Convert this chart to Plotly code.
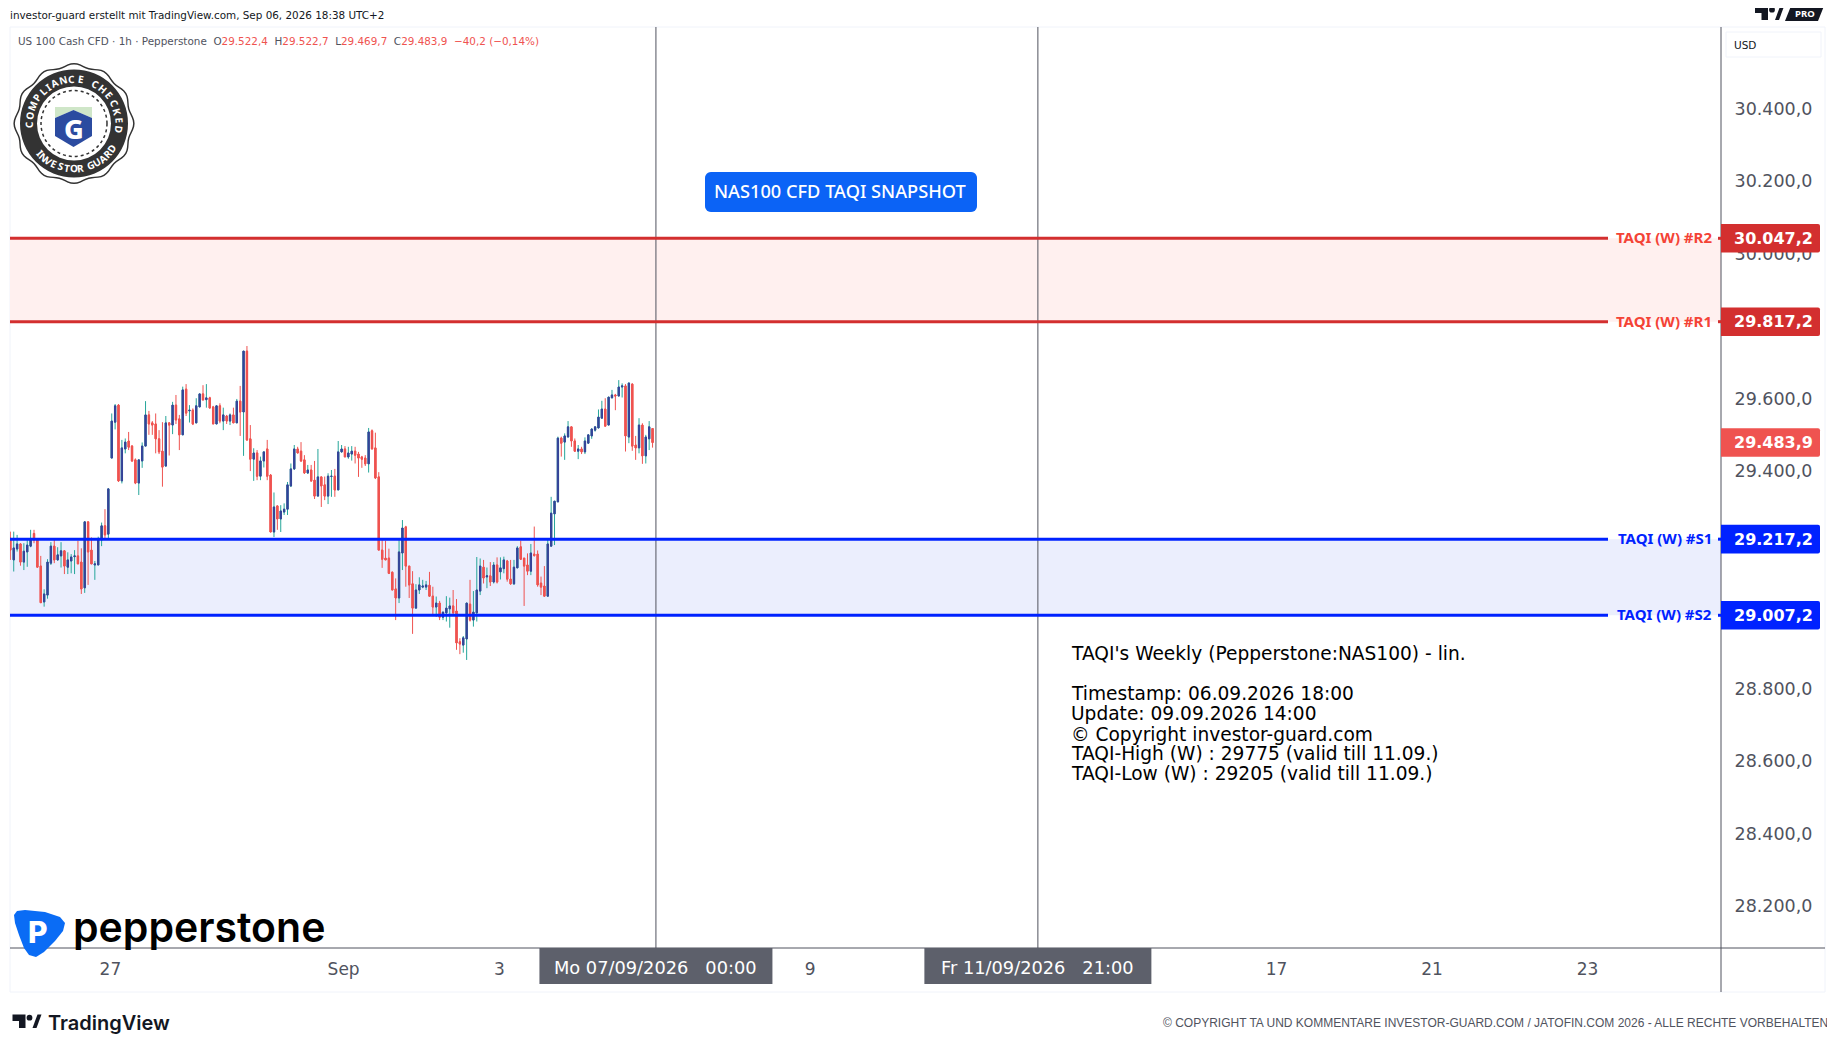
import math
import plotly.graph_objects as go

# hourly bars (prices)
opens = [29220,29160,29190,29204,29154,29182,29198,29233,29217,29143,29044,29063,29151,29198,29160,29171,29185,29140,29157,29169,
         29171,29154,29083,29265,29187,29146,29146,29215,29254,29231,29441,29540,29587,29378,29466,29488,29474,29436,29372,29433,
         29474,29560,29538,29535,29494,29460,29419,29538,29532,29587,29549,29505,29631,29571,29573,29538,29582,29618,29602,29607,
         29582,29535,29585,29543,29557,29543,29560,29538,29598,29568,29736,29494,29438,29455,29391,29433,29466,29394,29237,29309,
         29273,29292,29300,29364,29411,29466,29460,29436,29400,29408,29380,29336,29389,29367,29336,29390,29391,29353,29458,29466,
         29444,29452,29460,29452,29444,29441,29425,29516,29469,29389,29187,29165,29165,29126,29080,29055,29179,29251,29143,29094,
         29027,29077,29085,29085,29090,29060,29030,29041,29002,29014,29025,29033,29019,28934,28925,28942,29038,28994,29014,29074,
         29140,29113,29116,29099,29146,29127,29136,29157,29107,29094,29138,29196,29165,29146,29129,29176,29176,29096,29088,29060,
         29198,29287,29320,29496,29485,29499,29527,29488,29460,29466,29458,29482,29502,29518,29524,29551,29576,29532,29607,29615,
         29612,29637,29640,29499,29645,29477,29469,29532,29447,29494,29522.4]
highs = [29238,29238,29229,29206,29206,29220,29243,29243,29220,29171,29079,29162,29209,29215,29195,29209,29187,29181,29176,29187,
         29213,29192,29265,29265,29222,29157,29224,29263,29300,29356,29564,29590,29590,29491,29495,29513,29477,29440,29436,29484,
         29598,29571,29543,29564,29518,29540,29557,29540,29596,29615,29560,29638,29645,29587,29578,29606,29618,29642,29645,29610,
         29585,29585,29592,29580,29560,29564,29580,29604,29640,29736,29750,29532,29468,29463,29445,29459,29491,29397,29346,29309,
         29311,29316,29375,29426,29477,29472,29485,29449,29422,29422,29433,29466,29390,29390,29399,29408,29411,29488,29477,29474,
         29472,29474,29472,29458,29447,29449,29524,29520,29511,29402,29215,29213,29191,29128,29109,29220,29270,29254,29143,29129,
         29093,29112,29105,29102,29127,29086,29059,29047,29017,29060,29056,29077,29052,28944,28950,29041,29105,29074,29168,29164,
         29160,29139,29154,29154,29167,29167,29169,29160,29160,29160,29198,29213,29165,29178,29204,29252,29186,29114,29143,29220,
         29334,29322,29500,29500,29509,29543,29527,29495,29477,29472,29498,29505,29523,29528,29575,29599,29606,29610,29629,29618,
         29656,29647,29645,29649,29647,29502,29551,29537,29505,29543,29522.7]
lows = [29160,29128,29183,29144,29132,29141,29195,29206,29140,29042,29031,29053,29146,29151,29158,29139,29121,29121,29123,29121,
        29149,29066,29069,29091,29149,29105,29146,29198,29217,29220,29441,29520,29375,29371,29454,29463,29430,29369,29339,29414,
        29474,29505,29505,29454,29452,29362,29417,29448,29507,29535,29463,29505,29557,29539,29532,29537,29582,29601,29580,29578,
        29535,29535,29537,29518,29535,29532,29538,29538,29502,29447,29488,29405,29378,29380,29380,29415,29380,29237,29223,29243,
        29237,29284,29284,29361,29408,29454,29430,29397,29397,29375,29328,29336,29306,29325,29314,29334,29334,29353,29456,29444,
        29439,29434,29426,29389,29414,29419,29401,29465,29383,29187,29138,29160,29121,29077,28994,29041,29132,29086,29055,28956,
        29025,29066,29082,29077,29059,29005,29003,28994,28994,28990,28973,29008,28912,28900,28904,28884,28990,28976,28990,29063,
        29095,29082,29088,29095,29095,29106,29123,29100,29091,29091,29138,29160,29033,29118,29118,29169,29086,29063,29060,29060,
        29197,29201,29320,29445,29436,29498,29472,29459,29438,29452,29452,29482,29494,29514,29523,29551,29529,29532,29606,29573,
        29612,29608,29459,29482,29461,29436,29454,29425,29426,29463,29469.7]
closes = [29187,29193,29204,29154,29184,29201,29217,29215,29140,29042,29066,29154,29198,29160,29174,29185,29143,29160,29168,29171,
          29149,29080,29265,29182,29149,29149,29218,29254,29229,29356,29543,29585,29378,29469,29485,29471,29433,29372,29436,29474,
          29560,29535,29532,29494,29458,29416,29538,29532,29587,29546,29505,29629,29565,29573,29535,29585,29618,29601,29607,29579,
          29535,29585,29543,29560,29543,29560,29538,29598,29568,29736,29491,29438,29455,29391,29433,29458,29391,29237,29306,29273,
          29295,29300,29367,29411,29466,29455,29433,29400,29408,29378,29336,29389,29364,29336,29391,29391,29353,29458,29466,29444,
          29455,29460,29449,29441,29438,29425,29513,29466,29386,29187,29162,29160,29123,29077,29055,29182,29248,29143,29091,29027,
          29077,29091,29088,29091,29060,29030,29041,29002,29016,29027,29033,29014,28931,28928,28945,29041,28994,29016,29077,29143,
          29110,29116,29099,29146,29099,29138,29160,29107,29094,29140,29193,29162,29143,29129,29179,29172,29091,29085,29060,29204,
          29289,29322,29496,29482,29502,29527,29488,29460,29466,29458,29488,29505,29521,29527,29554,29576,29529,29609,29615,29612,
          29637,29640,29502,29648,29474,29469,29532,29447,29499,29527,29483.9]

# TAQI levels and their axis tags
level_values = [30047.2, 29817.2, 29217.2, 29007.2]
level_names = ["TAQI (W) #R2", "TAQI (W) #R1", "TAQI (W) #S1", "TAQI (W) #S2"]
level_tags = ["30.047,2", "29.817,2", "29.217,2", "29.007,2"]
last_price = 29483.9
last_tag = "29.483,9"

price_ticks = [30400, 30200, 30000, 29600, 29400, 28800, 28600, 28400, 28200]
price_labels = ["30.400,0", "30.200,0", "30.000,0", "29.600,0", "29.400,0", "28.800,0", "28.600,0", "28.400,0", "28.200,0"]
time_ticks = [29.6, 98.6, 144.7, 236.6, 374.6, 420.6, 466.6]
time_labels = ["27", "Sep", "3", "9", "17", "21", "23"]
cursor_bars = [191, 304]
cursor_labels = ["Mo 07/09/2026   00:00", "Fr 11/09/2026   21:00"]

note_lines = ["TAQI's Weekly (Pepperstone:NAS100) - lin.",
              "Timestamp: 06.09.2026 18:00",
              "Update: 09.09.2026 14:00",
              "© Copyright investor-guard.com",
              "TAQI-High (W) : 29775 (valid till 11.09.)",
              "TAQI-Low (W) : 29205 (valid till 11.09.)"]
note_rows = [653, 693, 713, 734, 753, 773]

RED = "#d32f2f"
BLUE = "#0022ff"
GREY = "#50535e"
DARK = "#131722"
FONT = "Noto Sans"
TICKFONT = "DejaVu Sans"

# page px -> paper, the pane runs 10..1721 by 27..948
def fx(x):
    return (x - 10) / 1711

def fy(y):
    return (948 - y) / 921

def polygon(points):
    return "M " + " L ".join(f"{fx(x)},{fy(y)}" for x, y in points) + " Z"

shapes = []
annotations = []

def text(x, y, s, size, color, anchor="left", weight=400, family=FONT, angle=0):
    annotations.append(dict(x=fx(x), y=fy(y), xref="paper", yref="paper", text=s, showarrow=False,
                            xanchor=anchor, yanchor="middle", textangle=angle,
                            font=dict(size=size, color=color, family=family, weight=weight)))

def poly(points, color):
    shapes.append(dict(type="path", xref="paper", yref="paper", path=polygon(points), fillcolor=color,
                       line=dict(width=0), layer="above"))

def circle(x, y, r, fill, line=None, width=0, dash="solid"):
    shapes.append(dict(type="circle", xref="paper", yref="paper", x0=fx(x - r), x1=fx(x + r), y0=fy(y + r), y1=fy(y - r),
                       fillcolor=fill, line=dict(color=line, width=width, dash=dash), layer="above"))

def hline(x0, x1, y, color, width=1):
    shapes.append(dict(type="line", xref="paper", yref="paper", x0=fx(x0), x1=fx(x1), y0=fy(y), y1=fy(y),
                       line=dict(color=color, width=width), layer="above"))

def vline(x, y0, y1, color, width=1):
    shapes.append(dict(type="line", xref="paper", yref="paper", x0=fx(x), x1=fx(x), y0=fy(y0), y1=fy(y1),
                       line=dict(color=color, width=width), layer="above"))

def tv_logo(x, y):
    poly([(x, y), (x + 13, y), (x + 13, y + 13.5), (x + 6.5, y + 13.5), (x + 6.5, y + 6.5), (x, y + 6.5)], DARK)
    circle(x + 17, y + 3.2, 2.9, DARK)
    poly([(x + 20, y + 13.5), (x + 25, y), (x + 29, y), (x + 24, y + 13.5)], DARK)

def round_rect(x0, y0, x1, y1, r, color):
    pts = []
    for cx_, cy_, a0 in [(x1 - r, y0 + r, 0), (x1 - r, y1 - r, 90), (x0 + r, y1 - r, 180), (x0 + r, y0 + r, 270)]:
        for a in range(a0, a0 + 91, 15):
            pts.append((cx_ + r * math.sin(math.radians(a)), cy_ - r * math.cos(math.radians(a))))
    poly(pts, color)

# letters of the seal, narrow ones take less of the arc
def arc_text(s, cx, cy, r, start, step, top=True):
    widths = {"I": 0.5, " ": 0.7, "M": 1.25, "C": 1.05}
    a = start
    for ch in s:
        w = widths.get(ch, 1) * step
        a += w / 2
        px = cx + r * math.sin(math.radians(a))
        py = cy - r * math.cos(math.radians(a))
        text(px, py, ch, 10, "white", "center", 700, angle=a if top else a - 180)
        a += w / 2

# pane frame
shapes.append(dict(type="rect", xref="paper", yref="paper", x0=0, x1=fx(1825), y0=fy(992), y1=1,
                   line=dict(color="#f0f3fa", width=1), layer="below"))

# zones, drawn behind the candles
shapes.append(dict(type="rect", xref="paper", yref="y", x0=0, x1=1, y0=level_values[1], y1=level_values[0],
                   fillcolor="#fff0ef", line=dict(width=0), layer="below"))
shapes.append(dict(type="rect", xref="paper", yref="y", x0=0, x1=1, y0=level_values[3], y1=level_values[2],
                   fillcolor="#ebeefd", line=dict(width=0), layer="below"))

for b in cursor_bars:
    shapes.append(dict(type="line", xref="x", yref="paper", x0=b, x1=b, y0=0, y1=1, line=dict(color=GREY, width=1), layer="above"))

# axis lines
hline(10, 1825, 948, GREY)
vline(1721, 27, 992, GREY)

# level lines with the gap for their names
for i, v in enumerate(level_values):
    c = RED if i < 2 else BLUE
    for x0, x1 in [(0, fx(1608)), (fx(1718), 1)]:
        shapes.append(dict(type="line", xref="paper", yref="y", x0=x0, x1=x1, y0=v, y1=v,
                           line=dict(color=c, width=3), layer="above"))
    annotations.append(dict(x=fx(1714), y=v, xref="paper", yref="y", yshift=1, text=level_names[i], showarrow=False, xanchor="right",
                            yanchor="middle", font=dict(size=15, color="#f44336" if i < 2 else BLUE, family=FONT, weight=700)))

# price tags on the axis
tag_path = "M 0 -14.3 H 97 Q 99 -14.3 99 -12.3 V 12.3 Q 99 14.3 97 14.3 H 0 Z"
tags = [(level_values[0], level_tags[0], RED), (level_values[1], level_tags[1], RED), (last_price, last_tag, "#ef5350"),
        (level_values[2], level_tags[2], BLUE), (level_values[3], level_tags[3], BLUE)]
for v, label, c in tags:
    shapes.append(dict(type="path", xref="paper", yref="y", xsizemode="pixel", ysizemode="pixel", xanchor=1, yanchor=v,
                       path=tag_path, fillcolor=c, line=dict(width=0), layer="above"))
    annotations.append(dict(x=1, y=v, xref="paper", yref="y", xshift=52.5, text=label, showarrow=False, xanchor="center",
                            yanchor="middle", font=dict(size=16, color="white", family=TICKFONT, weight=700)))

# time tags under the cursors
for b, label, half in zip(cursor_bars, cursor_labels, (116.5, 113.5)):
    shapes.append(dict(type="rect", xref="x", yref="paper", xsizemode="pixel", xanchor=b, x0=-half, x1=half,
                       y0=fy(984), y1=fy(948), fillcolor="#5d606b", line=dict(width=0), layer="above"))
    annotations.append(dict(x=b, y=fy(967), xref="x", yref="paper", text=label, showarrow=False, xanchor="center",
                            yanchor="middle", font=dict(size=17.8, color="white", family=TICKFONT)))

# header, legend and footer
text(8, 15, "investor-guard erstellt mit TradingView.com, Sep 06, 2026 18:38 UTC+2", 10.4, DARK, family=TICKFONT)
text(16, 40.5, f'<span style="color:{GREY}">US 100 Cash CFD · 1h · Pepperstone  O</span>29.522,4'
               f'  <span style="color:{GREY}">H</span>29.522,7  <span style="color:{GREY}">L</span>29.469,7'
               f'  <span style="color:{GREY}">C</span>29.483,9  −40,2 (−0,14%)', 10.4, "#ef5350", family=TICKFONT)
text(1830, 1022.5, "© COPYRIGHT TA UND KOMMENTARE INVESTOR-GUARD.COM / JATOFIN.COM 2026 - ALLE RECHTE VORBEHALTEN",
     12, GREY, "right", family="Liberation Sans")
tv_logo(12.5, 1014.5)
text(46, 1022.5, "TradingView", 20, DARK, weight=600, family="Inter")
tv_logo(1755, 6.5)
poly([(1785, 21), (1791, 6), (1824, 6), (1818, 21)], DARK)
text(1804.5, 13.5, "PRO", 9.5, "white", "center", 700)

# currency box
shapes.append(dict(type="rect", xref="paper", yref="paper", x0=fx(1726), x1=fx(1821), y0=fy(57), y1=fy(32),
                   line=dict(color="#f0f3fa", width=1), layer="above"))
text(1732, 44.5, "USD", 10.5, DARK, family=TICKFONT)

# snapshot button
round_rect(705, 172, 977, 212, 6, "#0b63f6")
text(840, 191, "NAS100 CFD TAQI SNAPSHOT", 18.2, "white", "center", 500)

for row, line in zip(note_rows, note_lines):
    text(1069, row, line, 18.6, "black", family=TICKFONT)

# compliance seal
cx, cy = 74, 123.5
poly([(cx + (59 + 1.6 * math.cos(math.radians(a * 12))) * math.sin(math.radians(a)),
       cy - (59 + 1.6 * math.cos(math.radians(a * 12))) * math.cos(math.radians(a))) for a in range(0, 360, 3)], "#333333")
poly([(cx + (57.5 + 1.6 * math.cos(math.radians(a * 12))) * math.sin(math.radians(a)),
       cy - (57.5 + 1.6 * math.cos(math.radians(a * 12))) * math.cos(math.radians(a))) for a in range(0, 360, 3)], "white")
circle(cx, cy, 54, "#333333")
circle(cx, cy, 37, "white")
circle(cx, cy, 33, "rgba(0,0,0,0)", "#333333", 1.5, "dot")
poly([(55, 107), (92, 107), (92, 118), (73.5, 110), (55, 118)], "#cfe6c8")
poly([(55, 118), (73.5, 110), (92, 118), (92, 136), (73.5, 147), (55, 136)], "#2b4ba0")
text(73.5, 128, "G", 27, "white", "center", 800)
arc_text("COMPLIANCE CHECKED", cx, cy, 45, -98, 11.4)
arc_text("INVESTOR GUARD", cx, cy, 45, 231, -8.4, top=False)

# pepperstone mark
poly([(14, 915), (17, 911), (25, 910), (45, 912), (60, 917), (65, 923), (63, 931), (55, 941), (44, 952), (36, 957),
      (29, 955), (24, 948), (19, 935), (15, 923)], "#0a6cf5")
text(38, 932, "P", 30, "white", "center", 800, family="Inter")
text(71, 927, "pepperstone", 41, "black", weight=600, family="Inter")

bars = list(range(len(opens)))

fig = go.Figure()
# teal wicks first, the bodies go over them as a second candlestick
fig.add_trace(go.Candlestick(x=bars, open=opens, high=highs, low=lows, close=closes, whiskerwidth=0,
                             increasing=dict(line=dict(color="#26a69a", width=1), fillcolor="#26a69a"),
                             decreasing=dict(line=dict(color="#ef5350", width=1), fillcolor="#ef5350"),
                             showlegend=False))
fig.add_trace(go.Candlestick(x=bars, open=opens, close=closes,
                             high=[max(o, c) for o, c in zip(opens, closes)],
                             low=[min(o, c) for o, c in zip(opens, closes)], whiskerwidth=0,
                             increasing=dict(line=dict(color="#364299", width=1), fillcolor="#364299"),
                             decreasing=dict(line=dict(color="#ef5350", width=1), fillcolor="#ef5350"),
                             showlegend=False))

fig.update_layout(
    width=1819,
    height=1028,
    margin=dict(l=2, r=106, t=19, b=88),
    paper_bgcolor="white",
    plot_bgcolor="white",
    boxgap=0.45,
    shapes=shapes,
    annotations=annotations,
    xaxis=dict(range=[-0.1, 506.1], rangeslider=dict(visible=False), showgrid=False, zeroline=False, showline=False,
               tickmode="array", tickvals=time_ticks, ticktext=time_labels, ticks="outside", ticklen=6, tickcolor="white",
               tickfont=dict(size=17, color=GREY, family=TICKFONT)),
    yaxis=dict(range=[28089.4, 30630.1], side="right", showgrid=False, zeroline=False, showline=False,
               tickmode="array", tickvals=price_ticks, ticktext=price_labels, ticks="outside", ticklen=9, tickcolor="white",
               ticklabelshift=-2, tickfont=dict(size=17.5, color=GREY, family=TICKFONT)),
)

fig.write_html("out.html")
